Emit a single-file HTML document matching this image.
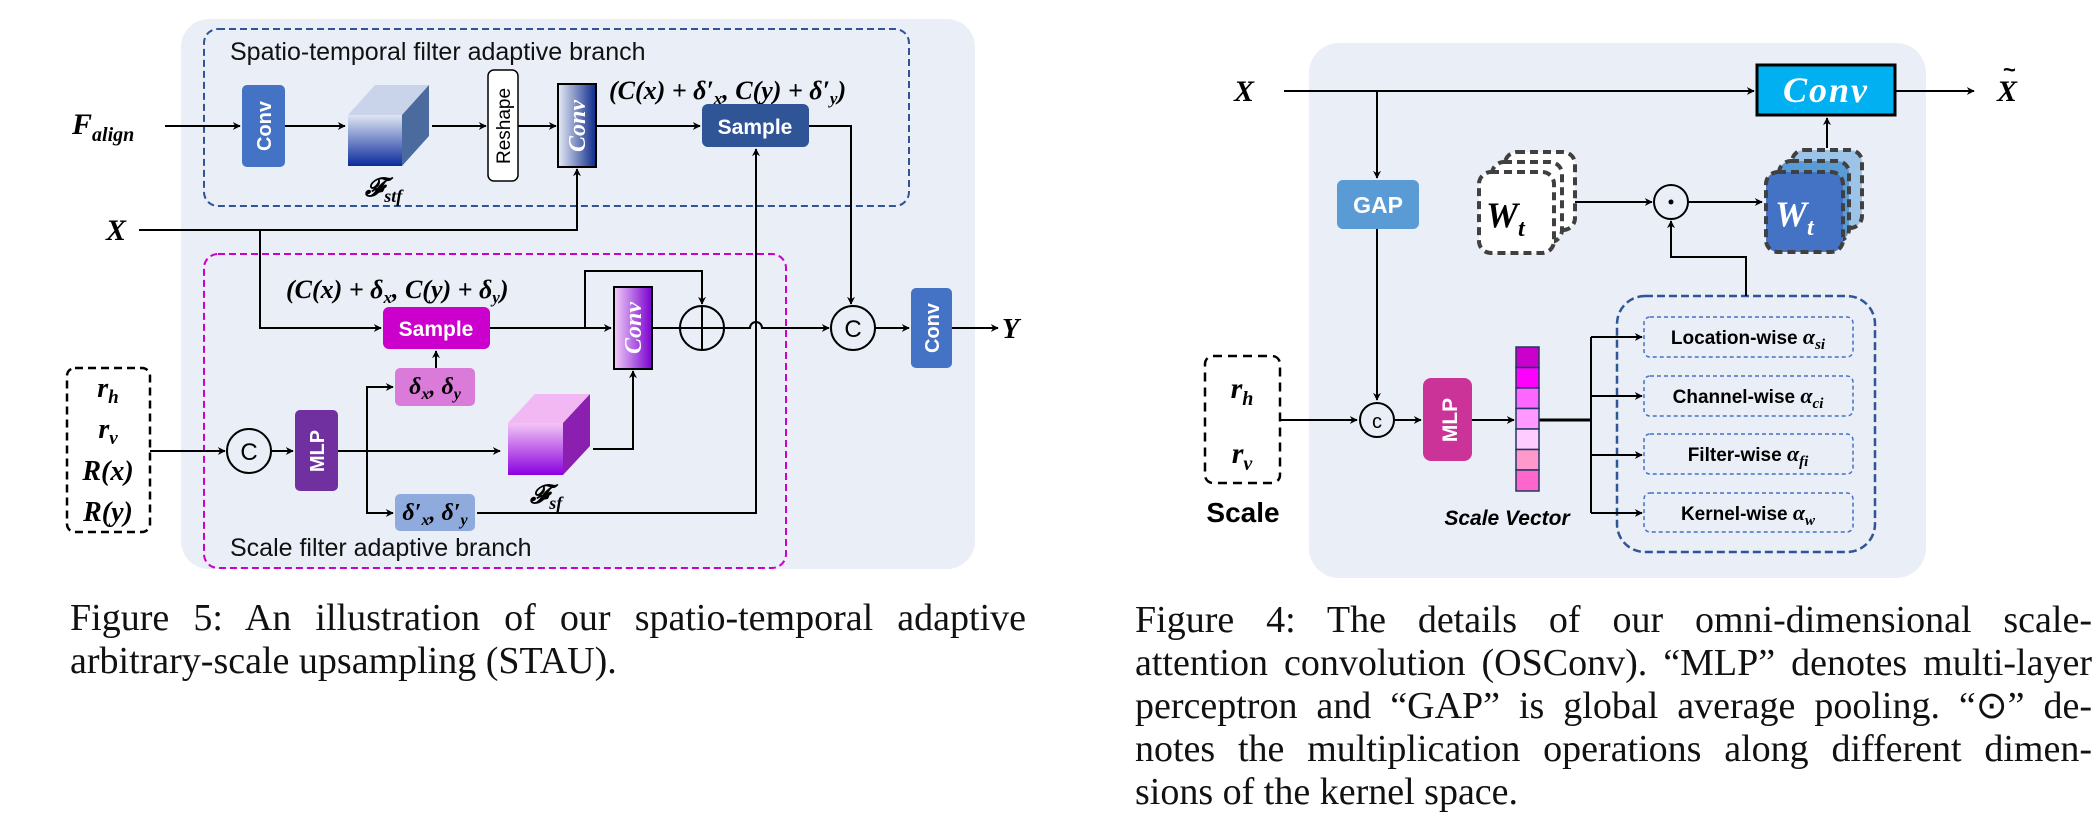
<!DOCTYPE html>
<html><head><meta charset="utf-8"><style>
body{margin:0;background:#fff;width:2100px;height:819px;overflow:hidden;position:relative}
svg{position:absolute;left:0;top:0}
.cap{position:absolute;font-family:"Liberation Serif",serif;font-size:38px;color:#111;line-height:43px}
.cap div{text-align:justify;text-align-last:justify;white-space:nowrap}
.cap div.l{text-align-last:left}
</style></head><body>
<svg width="2100" height="819" viewBox="0 0 2100 819" xmlns="http://www.w3.org/2000/svg">
<defs>
<marker id="a" viewBox="0 0 10 10" refX="9" refY="5" markerWidth="8" markerHeight="8" orient="auto" markerUnits="userSpaceOnUse"><path d="M0,0 L10,5 L0,10 L3,5 z" fill="#000"/></marker>
<linearGradient id="gb" x1="0" y1="0" x2="0" y2="1"><stop offset="0" stop-color="#dfe6f3"/><stop offset="1" stop-color="#0a2a9c"/></linearGradient>
<linearGradient id="gb2" x1="0" y1="0" x2="1" y2="0"><stop offset="0" stop-color="#e8ecf6"/><stop offset="1" stop-color="#0b2a8a"/></linearGradient>
<linearGradient id="gp" x1="0" y1="0" x2="0" y2="1"><stop offset="0" stop-color="#f3c6f5"/><stop offset="1" stop-color="#8a00e0"/></linearGradient>
<linearGradient id="gp2" x1="0" y1="0" x2="1" y2="0"><stop offset="0" stop-color="#f0d0f8"/><stop offset="1" stop-color="#7a00d0"/></linearGradient>
</defs>
<g font-family="Liberation Sans, sans-serif">
<rect x="181" y="19" width="794" height="550" rx="28" fill="#e9eef7"/>
<rect x="204" y="29" width="705" height="177" rx="14" fill="none" stroke="#2f5597" stroke-width="2" stroke-dasharray="7,4"/>
<rect x="204" y="254" width="582" height="314" rx="14" fill="none" stroke="#cc00cc" stroke-width="2" stroke-dasharray="7,4"/>
<text x="230" y="60" font-size="25" fill="#111">Spatio-temporal filter adaptive branch</text>
<text x="230" y="556" font-size="25" fill="#111">Scale filter adaptive branch</text>
<g stroke="#000" stroke-width="2" fill="none">
<line x1="165" y1="126" x2="240" y2="126" marker-end="url(#a)"/>
<line x1="285" y1="126" x2="345" y2="126" marker-end="url(#a)"/>
<line x1="432" y1="126" x2="486" y2="126" marker-end="url(#a)"/>
<line x1="518" y1="126" x2="556" y2="126" marker-end="url(#a)"/>
<line x1="596" y1="126" x2="700" y2="126" marker-end="url(#a)"/>
<polyline points="809,126 851,126 851,304" marker-end="url(#a)"/>
<polyline points="139,230 577,230 577,169" marker-end="url(#a)"/>
<polyline points="260,230 260,328 381,328" marker-end="url(#a)"/>
<line x1="490" y1="328" x2="611" y2="328" marker-end="url(#a)"/>
<polyline points="585,328 585,271 702,271 702,304" marker-end="url(#a)"/>
<path d="M652,328 L680,328 M724,328 L750,328 A6,6 0 0 1 762,328 L829,328" marker-end="url(#a)"/>
<line x1="875" y1="328" x2="909" y2="328" marker-end="url(#a)"/>
<line x1="952" y1="328" x2="998" y2="328" marker-end="url(#a)"/>
<polyline points="477,513 756,513 756,149" marker-end="url(#a)"/>
<line x1="436" y1="368" x2="436" y2="351" marker-end="url(#a)"/>
<line x1="150" y1="451" x2="225" y2="451" marker-end="url(#a)"/>
<line x1="271" y1="451" x2="293" y2="451" marker-end="url(#a)"/>
<line x1="338" y1="451" x2="500" y2="451" marker-end="url(#a)"/>
<polyline points="393,387 367,387 367,513 393,513" />
<line x1="380" y1="387" x2="393" y2="387" marker-end="url(#a)"/>
<line x1="380" y1="513" x2="393" y2="513" marker-end="url(#a)"/>
<polyline points="593,449 633,449 633,371" marker-end="url(#a)"/>
</g>
<rect x="242" y="85" width="43" height="82" rx="5" fill="#4472c4"/>
<text transform="translate(271,126) rotate(-90)" text-anchor="middle" font-size="20" font-weight="bold" fill="#fff">Conv</text>
<polygon points="348,115 375,85 429,85 402,115" fill="#c9d3ea"/>
<polygon points="402,115 429,85 429,136 402,166" fill="#4b6a9e"/>
<rect x="348" y="115" width="54" height="51" fill="url(#gb)"/>
<text x="365" y="196" font-family="Liberation Serif, serif" font-style="italic" font-size="26" font-weight="bold">𝓕<tspan font-size="18" dy="6">stf</tspan></text>
<rect x="488" y="70" width="30" height="111" rx="6" fill="#fff" stroke="#000" stroke-width="1.5"/>
<text transform="translate(510,126) rotate(-90)" text-anchor="middle" font-size="19" fill="#000">Reshape</text>
<rect x="558" y="84" width="38" height="83" fill="url(#gb2)" stroke="#000" stroke-width="2"/>
<text transform="translate(585,126) rotate(-90)" text-anchor="middle" font-family="Liberation Serif, serif" font-size="24" font-style="italic" font-weight="bold" fill="#fff">Conv</text>
<text x="609" y="99" font-family="Liberation Serif, serif" font-style="italic" font-weight="bold" font-size="26">(C(x) + δ′<tspan font-size="17" dy="5">x</tspan><tspan dy="-5">, C(y) + δ′</tspan><tspan font-size="17" dy="5">y</tspan><tspan dy="-5">)</tspan></text>
<rect x="702" y="104" width="107" height="43" rx="6" fill="#2f5597"/>
<text x="755" y="134" text-anchor="middle" font-size="21" font-weight="bold" fill="#fff">Sample</text>
<text x="72" y="134" font-family="Liberation Serif, serif" font-style="italic" font-weight="bold" font-size="30">F<tspan font-size="20" dy="7">align</tspan></text>
<text x="106" y="240" font-family="Liberation Serif, serif" font-style="italic" font-weight="bold" font-size="30">X</text>
<text x="286" y="298" font-family="Liberation Serif, serif" font-style="italic" font-weight="bold" font-size="26">(C(x) + δ<tspan font-size="17" dy="5">x</tspan><tspan dy="-5">, C(y) + δ</tspan><tspan font-size="17" dy="5">y</tspan><tspan dy="-5">)</tspan></text>
<rect x="383" y="307" width="107" height="42" rx="6" fill="#cc00cc"/>
<text x="436" y="336" text-anchor="middle" font-size="21" font-weight="bold" fill="#fff">Sample</text>
<rect x="614" y="287" width="38" height="82" fill="url(#gp2)" stroke="#000" stroke-width="2"/>
<text transform="translate(641,328) rotate(-90)" text-anchor="middle" font-family="Liberation Serif, serif" font-size="24" font-style="italic" font-weight="bold" fill="#fff">Conv</text>
<g stroke="#000" stroke-width="2" fill="none"><circle cx="702" cy="328" r="22"/><line x1="680" y1="328" x2="724" y2="328"/><line x1="702" y1="306" x2="702" y2="350"/>
<circle cx="853" cy="328" r="22"/><circle cx="249" cy="451" r="22"/></g>
<text x="853" y="337" text-anchor="middle" font-size="24">C</text>
<text x="249" y="460" text-anchor="middle" font-size="24">C</text>
<rect x="911" y="288" width="41" height="80" rx="5" fill="#4472c4"/>
<text transform="translate(939,328) rotate(-90)" text-anchor="middle" font-size="20" font-weight="bold" fill="#fff">Conv</text>
<text x="1002" y="338" font-family="Liberation Serif, serif" font-style="italic" font-weight="bold" font-size="28">Y</text>
<rect x="395" y="368" width="80" height="38" rx="5" fill="#da7bda"/>
<text x="435" y="394" text-anchor="middle" font-family="Liberation Serif, serif" font-style="italic" font-weight="bold" font-size="24">δ<tspan font-size="16" dy="5">x</tspan><tspan dy="-5">, δ</tspan><tspan font-size="16" dy="5">y</tspan></text>
<rect x="395" y="494" width="80" height="37" rx="5" fill="#8faadc"/>
<text x="435" y="520" text-anchor="middle" font-family="Liberation Serif, serif" font-style="italic" font-weight="bold" font-size="24">δ′<tspan font-size="16" dy="5">x</tspan><tspan dy="-5">, δ′</tspan><tspan font-size="16" dy="5">y</tspan></text>
<rect x="295" y="410" width="43" height="81" rx="5" fill="#7030a0"/>
<text transform="translate(324,451) rotate(-90)" text-anchor="middle" font-size="20" font-weight="bold" fill="#fff">MLP</text>
<polygon points="508,423 535,394 590,394 563,423" fill="#f2b8f4"/>
<polygon points="563,423 590,394 590,446 563,475" fill="#8b1fb0"/>
<rect x="508" y="423" width="55" height="52" fill="url(#gp)"/>
<text x="530" y="503" font-family="Liberation Serif, serif" font-style="italic" font-size="26" font-weight="bold">𝓕<tspan font-size="18" dy="6">sf</tspan></text>
<rect x="67" y="368" width="83" height="164" rx="8" fill="#fff" stroke="#000" stroke-width="2.5" stroke-dasharray="8,5"/>
<g font-family="Liberation Serif, serif" font-style="italic" font-weight="bold" font-size="28" text-anchor="middle">
<text x="108" y="397">r<tspan font-size="19" dy="6">h</tspan></text>
<text x="108" y="438">r<tspan font-size="19" dy="6">v</tspan></text>
<text x="108" y="480">R(x)</text>
<text x="108" y="521">R(y)</text>
</g>
<rect x="1309" y="43" width="617" height="535" rx="30" fill="#e9eef7"/>
<rect x="1617" y="296" width="258" height="256" rx="28" fill="none" stroke="#2f5597" stroke-width="2.5" stroke-dasharray="8,4"/>
<g stroke="#000" stroke-width="2" fill="none">
<line x1="1284" y1="91" x2="1754" y2="91" marker-end="url(#a)"/>
<line x1="1896" y1="91" x2="1974" y2="91" marker-end="url(#a)"/>
<line x1="1377" y1="91" x2="1377" y2="178" marker-end="url(#a)"/>
<line x1="1377" y1="229" x2="1377" y2="400" marker-end="url(#a)"/>
<line x1="1281" y1="420" x2="1357" y2="420" marker-end="url(#a)"/>
<line x1="1395" y1="420" x2="1421" y2="420" marker-end="url(#a)"/>
<line x1="1472" y1="420" x2="1514" y2="420" marker-end="url(#a)"/>
<line x1="1539" y1="420" x2="1591" y2="420" stroke-width="3"/>
<line x1="1591" y1="337" x2="1591" y2="513"/>
<line x1="1591" y1="337" x2="1642" y2="337" marker-end="url(#a)"/>
<line x1="1591" y1="396" x2="1642" y2="396" marker-end="url(#a)"/>
<line x1="1591" y1="455" x2="1642" y2="455" marker-end="url(#a)"/>
<line x1="1591" y1="513" x2="1642" y2="513" marker-end="url(#a)"/>
<polyline points="1746,296 1746,257 1671,257 1671,221" marker-end="url(#a)"/>
<line x1="1560" y1="202" x2="1652" y2="202" marker-end="url(#a)"/>
<line x1="1688" y1="202" x2="1762" y2="202" marker-end="url(#a)"/>
<line x1="1827" y1="148" x2="1827" y2="118" marker-end="url(#a)"/>
<circle cx="1377" cy="420" r="17"/>
<circle cx="1671" cy="202" r="17"/>
</g>
<circle cx="1671" cy="202" r="2.5" fill="#000"/>
<text x="1377" y="428" text-anchor="middle" font-size="20">c</text>
<text x="1234" y="101" font-family="Liberation Serif, serif" font-style="italic" font-weight="bold" font-size="30">X</text>
<text x="1997" y="101" font-family="Liberation Serif, serif" font-style="italic" font-weight="bold" font-size="30">X</text>
<text x="2003" y="77" font-size="22" font-weight="bold">~</text>
<rect x="1757" y="65" width="138" height="50" fill="#00b0f0" stroke="#000" stroke-width="3"/>
<text x="1826" y="102" text-anchor="middle" font-family="Liberation Serif, serif" font-style="italic" font-weight="bold" font-size="36" fill="#fff" letter-spacing="2">Conv</text>
<rect x="1337" y="180" width="82" height="49" rx="6" fill="#5b9bd5"/>
<text x="1378" y="213" text-anchor="middle" font-size="23" font-weight="bold" fill="#fff">GAP</text>
<g stroke="#404040" stroke-width="4" stroke-dasharray="8,5">
<rect x="1505" y="152" width="70" height="78" rx="12" fill="#fff"/>
<rect x="1492" y="162" width="70" height="80" rx="12" fill="#fff"/>
<rect x="1479" y="172" width="75" height="81" rx="12" fill="#fff"/>
<rect x="1792" y="150" width="70" height="78" rx="12" fill="#9dc3e6"/>
<rect x="1779" y="161" width="70" height="80" rx="12" fill="#5b9bd5"/>
<rect x="1766" y="172" width="77" height="80" rx="12" fill="#4472c4"/>
</g>
<text x="1486" y="227" font-family="Liberation Serif, serif" font-style="italic" font-weight="bold" font-size="36">W<tspan font-size="24" dy="9">t</tspan></text>
<text x="1775" y="226" font-family="Liberation Serif, serif" font-style="italic" font-weight="bold" font-size="36" fill="#fff">W<tspan font-size="24" dy="9">t</tspan></text>
<rect x="1205" y="356" width="75" height="127" rx="8" fill="#fff" stroke="#000" stroke-width="2.5" stroke-dasharray="9,6"/>
<text x="1242" y="398" text-anchor="middle" font-family="Liberation Serif, serif" font-style="italic" font-weight="bold" font-size="30">r<tspan font-size="20" dy="7">h</tspan></text>
<text x="1242" y="463" text-anchor="middle" font-family="Liberation Serif, serif" font-style="italic" font-weight="bold" font-size="30">r<tspan font-size="20" dy="7">v</tspan></text>
<text x="1243" y="522" text-anchor="middle" font-size="28" font-weight="bold">Scale</text>
<rect x="1423" y="378" width="49" height="83" rx="8" fill="#cc3399"/>
<text transform="translate(1457,420) rotate(-90)" text-anchor="middle" font-size="21" font-weight="bold" fill="#fff">MLP</text>
<g stroke="#203864" stroke-width="1.5">
<rect x="1516" y="347" width="23" height="20.5" fill="#cc00cc"/>
<rect x="1516" y="367.5" width="23" height="20.5" fill="#ff00ff"/>
<rect x="1516" y="388" width="23" height="20.5" fill="#ff66ff"/>
<rect x="1516" y="408.5" width="23" height="20.5" fill="#ff99ff"/>
<rect x="1516" y="429" width="23" height="20.5" fill="#ffccff"/>
<rect x="1516" y="449.5" width="23" height="20.5" fill="#ff99cc"/>
<rect x="1516" y="470" width="23" height="21" fill="#ff66cc"/>
</g>
<text x="1507" y="525" text-anchor="middle" font-size="21" font-weight="bold" font-style="italic">Scale Vector</text>
<g fill="none" stroke="#4472c4" stroke-width="1.5" stroke-dasharray="4,3">
<rect x="1644" y="317" width="209" height="40" rx="6"/>
<rect x="1644" y="376" width="209" height="40" rx="6"/>
<rect x="1644" y="434" width="209" height="40" rx="6"/>
<rect x="1644" y="493" width="209" height="39" rx="6"/>
</g>
<g font-size="19" font-weight="bold" text-anchor="middle">
<text x="1748" y="344">Location-wise <tspan font-family="Liberation Serif, serif" font-style="italic" font-size="22">α</tspan><tspan font-family="Liberation Serif, serif" font-style="italic" font-size="15" dy="5">si</tspan></text>
<text x="1748" y="403">Channel-wise <tspan font-family="Liberation Serif, serif" font-style="italic" font-size="22">α</tspan><tspan font-family="Liberation Serif, serif" font-style="italic" font-size="15" dy="5">ci</tspan></text>
<text x="1748" y="461">Filter-wise <tspan font-family="Liberation Serif, serif" font-style="italic" font-size="22">α</tspan><tspan font-family="Liberation Serif, serif" font-style="italic" font-size="15" dy="5">fi</tspan></text>
<text x="1748" y="520">Kernel-wise <tspan font-family="Liberation Serif, serif" font-style="italic" font-size="22">α</tspan><tspan font-family="Liberation Serif, serif" font-style="italic" font-size="15" dy="5">w</tspan></text>
</g>
</g>
</svg>
<div class="cap" style="left:70px;top:597px;width:956px">
<div>Figure 5: An illustration of our spatio-temporal adaptive</div>
<div class="l">arbitrary-scale upsampling (STAU).</div>
</div>
<div class="cap" style="left:1135px;top:599px;width:957px">
<div>Figure 4: The details of our omni-dimensional scale-</div>
<div>attention convolution (OSConv). “MLP” denotes multi-layer</div>
<div>perceptron and “GAP” is global average pooling. “⊙” de-</div>
<div>notes the multiplication operations along different dimen-</div>
<div class="l">sions of the kernel space.</div>
</div>
</body></html>
